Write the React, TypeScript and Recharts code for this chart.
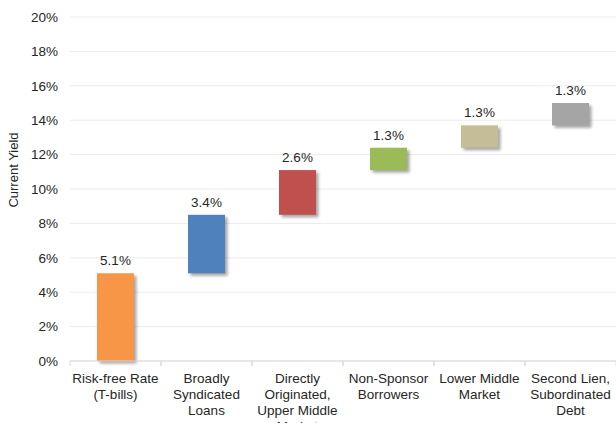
import {
  Bar,
  BarChart,
  CartesianGrid,
  Cell,
  LabelList,
  XAxis,
  YAxis,
} from "recharts";

const categories = [
  "Risk-free Rate (T-bills)",
  "Broadly Syndicated Loans",
  "Directly Originated, Upper Middle Market",
  "Non-Sponsor Borrowers",
  "Lower Middle Market",
  "Second Lien, Subordinated Debt",
];

const tickLines = [
  ["Risk-free Rate", "(T-bills)"],
  ["Broadly", "Syndicated", "Loans"],
  ["Directly", "Originated,", "Upper Middle", "Market"],
  ["Non-Sponsor", "Borrowers"],
  ["Lower Middle", "Market"],
  ["Second Lien,", "Subordinated", "Debt"],
];

const increments = [5.1, 3.4, 2.6, 1.3, 1.3, 1.3];
const colors = ["#F79646", "#4F81BD", "#C0504D", "#9BBB59", "#C4BD97", "#A5A5A5"];
const yTicks = [0, 2, 4, 6, 8, 10, 12, 14, 16, 18, 20];

// waterfall: each bar starts where the previous one ended
let running = 0;
const data = categories.map((name, i) => {
  const base = running;
  running = Math.round((running + increments[i]) * 10) / 10;
  return { name, base, value: increments[i], idx: i };
});

const font = "Arial, 'Liberation Sans', sans-serif";
const textColor = "#262626";

function ShadowBar(props: any) {
  const { x, y, width, height, fill, index } = props;
  if (!height) return null;
  const id = `shadow-${index}`;
  return (
    <g>
      <defs>
        <filter id={id} x="-50%" y="-50%" width="200%" height="200%">
          <feGaussianBlur stdDeviation="1.5" />
        </filter>
      </defs>
      <rect
        x={x + 2.5}
        y={y + 2.5}
        width={width}
        height={height}
        fill="#000"
        opacity={0.35}
        filter={`url(#${id})`}
      />
      <rect x={x} y={y} width={width} height={height} fill={fill} />
    </g>
  );
}

function CategoryTick(props: any) {
  const { x, y, payload, index } = props;
  const half = payload.offset ?? 45.5;
  const lines = tickLines[index] ?? [payload.value];
  return (
    <g>
      <line x1={x - half} x2={x - half} y1={y} y2={y + 5} stroke="#d9d9d9" />
      <line x1={x + half} x2={x + half} y1={y} y2={y + 5} stroke="#d9d9d9" />
      <text
        x={x}
        y={y}
        textAnchor="middle"
        fontFamily={font}
        fontSize={13.5}
        fill={textColor}
      >
        {lines.map((l: string, i: number) => (
          <tspan key={i} x={x} dy={i === 0 ? 22 : 16}>
            {l}
          </tspan>
        ))}
      </text>
    </g>
  );
}

function YLabel(props: any) {
  const vb = props.viewBox;
  const cx = vb.x + 13;
  const cy = vb.y + vb.height / 2 - 19;
  return (
    <text
      x={cx}
      y={cy}
      transform={`rotate(-90, ${cx}, ${cy})`}
      textAnchor="middle"
      dominantBaseline="central"
      fontFamily={font}
      fontSize={13}
      fill={textColor}
    >
      Current Yield
    </text>
  );
}

export default function App() {
  return (
    <div style={{ position: "absolute", top: 0, left: 0, background: "#fff" }}>
      <BarChart
        width={616}
        height={423}
        data={data}
        margin={{ top: 17, right: 0, left: 0, bottom: 0 }}
        barCategoryGap={0}
      >
        <CartesianGrid vertical={false} stroke="#ebebeb" />
        <XAxis
          dataKey="name"
          height={62}
          interval={0}
          tickLine={false}
          tickSize={0}
          tickMargin={0}
          stroke="#d9d9d9"
          tick={<CategoryTick />}
        />
        <YAxis
          width={70}
          domain={[0, 20]}
          ticks={yTicks}
          axisLine={false}
          tickLine={false}
          tickSize={0}
          tickMargin={12}
          tickFormatter={(v: number) => `${v}%`}
          tick={{ fontFamily: font, fontSize: 13.5, fill: textColor }}
          label={{ content: <YLabel /> }}
        />
        <Bar
          dataKey="base"
          stackId="a"
          fill="transparent"
          barSize={37}
          isAnimationActive={false}
        />
        <Bar
          dataKey="value"
          stackId="a"
          barSize={37}
          shape={<ShadowBar />}
          isAnimationActive={false}
        >
          {data.map((d, i) => (
            <Cell key={d.name} fill={colors[i]} />
          ))}
          <LabelList
            dataKey="value"
            position="top"
            offset={8}
            formatter={(v: any) => `${Number(v).toFixed(1)}%`}
            style={{ fontFamily: font, fontSize: 13.5, fill: textColor }}
          />
        </Bar>
      </BarChart>
    </div>
  );
}
